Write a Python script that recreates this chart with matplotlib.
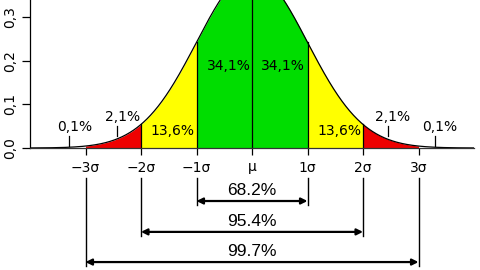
import numpy as np
import matplotlib
matplotlib.use("Agg")
import matplotlib.pyplot as plt

# ---- data ----
sigma_ticks = [-3, -2, -1, 0, 1, 2, 3]
sigma_labels = ["\u22123\u03c3", "\u22122\u03c3", "\u22121\u03c3", "\u03bc", "1\u03c3", "2\u03c3", "3\u03c3"]
y_ticks = [0.0, 0.1, 0.2, 0.3]
y_labels = ["0,0", "0,1", "0,2", "0,3"]
band_edges = [(-3, -2), (-2, -1), (-1, 0), (0, 1), (1, 2), (2, 3)]
band_colors = ["#ee0000", "#ffff00", "#00dd00", "#00dd00", "#ffff00", "#ee0000"]
band_labels = ["2,1%", "13,6%", "34,1%", "34,1%", "13,6%", "2,1%", "0,1%", "0,1%"]
band_label_x = [-2.33, -1.43, -0.415, 0.56, 1.57, 2.53, -3.19, 3.38]
band_label_y = [0.070, 0.039, 0.188, 0.188, 0.039, 0.070, 0.048, 0.048]
leader_x = [-3.29, -2.44, 2.45, 3.29]
leader_y0 = [0.005, 0.027, 0.027, 0.005]
leader_y1 = [0.027, 0.050, 0.050, 0.027]
ranges = [1, 2, 3]
range_labels = ["68.2%", "95.4%", "99.7%"]
range_text_y = [-0.098, -0.169, -0.236]
range_arrow_y = [-0.1213, -0.192, -0.261]

def pdf(x):
    return np.exp(-0.5 * x**2) / np.sqrt(2 * np.pi)

fig = plt.figure(figsize=(4.8, 2.7), dpi=100)
ax = fig.add_axes([30/480, (270-148)/270, 444/480, 148/270])
ax.set_xlim(-4, 4)
ax.set_ylim(0, 148/437)

x = np.linspace(-4, 4, 801)
for (a, b), c in zip(band_edges, band_colors):
    xs = np.linspace(a, b, 200)
    ax.fill_between(xs, 0, pdf(xs), color=c, lw=0)
for xb in [-2, -1, 0, 1, 2]:
    ax.plot([xb, xb], [0, pdf(xb)], color="black", lw=0.9)
ax.plot(x, pdf(x), color="black", lw=0.9)

for t, xx, yy in zip(band_labels, band_label_x, band_label_y):
    ax.text(xx, yy, t, ha="center", va="center", fontsize=10, family="DejaVu Sans")
for xx, a, b in zip(leader_x, leader_y0, leader_y1):
    ax.plot([xx, xx], [a, b], color="black", lw=0.9)

ax.spines["top"].set_visible(False)
ax.spines["right"].set_visible(False)
ax.spines["left"].set_linewidth(0.9)
ax.spines["bottom"].set_linewidth(0.9)
ax.spines["bottom"].set_color("#333333")
ax.set_xticks(sigma_ticks)
ax.set_xticklabels(sigma_labels, fontsize=10)
ax.set_yticks(y_ticks)
ax.set_yticklabels(y_labels, fontsize=10, rotation=90, va="center")
ax.tick_params(axis="x", length=5, width=0.9, pad=4)
ax.tick_params(axis="y", length=6, width=0.9, pad=3)

# lower range arrows
for r, lab, ty, ay in zip(ranges, range_labels, range_text_y, range_arrow_y):
    for s in (-r, r):
        ax.plot([s, s], [-0.0686, ay - 0.01], color="black", lw=1.0, clip_on=False)
    ax.annotate("", xy=(-r, ay), xytext=(r, ay),
                arrowprops=dict(arrowstyle="<|-|>", color="black", lw=1.6,
                                mutation_scale=9, shrinkA=0, shrinkB=0),
                annotation_clip=False)
    ax.text(0, ty, lab, ha="center", va="center", fontsize=12.5,
            family="Liberation Sans", clip_on=False)

fig.savefig("out.png", dpi=100)
